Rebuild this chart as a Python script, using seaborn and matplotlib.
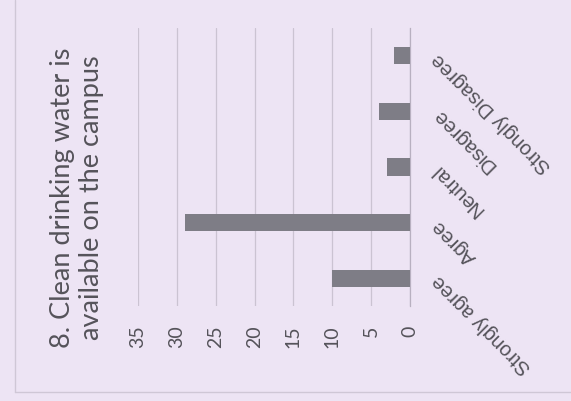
import pandas as pd
import numpy as np
import matplotlib
matplotlib.use('Agg')
import matplotlib.pyplot as plt
import seaborn as sns

# datos del grafico (orden original de las categorias)
categorias = ['Strongly agree', 'Agree', 'Neutral', 'Disagree', 'Strongly Disagree']
respuestas = [10, 29, 3, 4, 2]
ticks_valor = [0, 5, 10, 15, 20, 25, 30, 35]
titulo = '8. Clean drinking water is\navailable on the campus'

fondo = '#EDE4F4'
gris_barra = '#7E7D86'
gris_linea = '#CBC3D2'
gris_texto = '#55535A'

sns.set_theme(style='white')
plt.rcParams['font.family'] = ['Lato', 'DejaVu Sans']

df = pd.DataFrame({'categoria': categorias, 'respuestas': respuestas})

fig = plt.figure(figsize=(5.71, 4.01), dpi=100, facecolor=fondo)
ax = fig.add_axes([138 / 571, 1 - 306 / 401, (410 - 138) / 571, (306 - 28) / 401])
ax.set_facecolor(fondo)

sns.barplot(data=df, y='categoria', x='respuestas', order=categorias,
            orient='y', color=gris_barra, saturation=1, width=0.31,
            linewidth=0, ax=ax, zorder=3)

# la primera categoria abajo, valores crecen hacia la izquierda
ax.invert_yaxis()
ax.set_xlim(35, 0)
ax.set_xticks(ticks_valor)
ax.set_xticklabels([str(t) for t in ticks_valor], rotation=90, fontsize=14, color=gris_texto)
ax.tick_params(axis='x', length=0, pad=14)

ax.yaxis.tick_right()
ax.tick_params(axis='y', length=0, pad=18)
for lbl in ax.get_yticklabels():
    lbl.set_rotation(135)
    lbl.set_rotation_mode('anchor')
    lbl.set_ha('right')
    lbl.set_va('center')
    lbl.set_fontsize(14.5)
    lbl.set_color(gris_texto)
    lbl.set_family(['Liberation Sans', 'DejaVu Sans'])

ax.set_xlabel('')
ax.set_ylabel('')
ax.grid(axis='x', color=gris_linea, linewidth=0.9, zorder=0)
for lado in ['top', 'bottom', 'left']:
    ax.spines[lado].set_visible(False)
ax.spines['right'].set_color('#B8B0C0')
ax.spines['right'].set_linewidth(0.9)

# titulo girado a la izquierda
fig.text(77 / 571, 1 - 198 / 401, titulo, rotation=90, ha='center', va='center',
         fontsize=19.5, color=gris_texto, linespacing=1.2, multialignment='center')

# marco exterior
fig.add_artist(plt.Line2D([15 / 571, 15 / 571], [1 - 392 / 401, 1.0],
                          color='#CFC7D6', linewidth=1))
fig.add_artist(plt.Line2D([15 / 571, 1.0], [1 - 392 / 401, 1 - 392 / 401],
                          color='#CFC7D6', linewidth=1))

fig.savefig('out.png', dpi=100, facecolor=fondo)
